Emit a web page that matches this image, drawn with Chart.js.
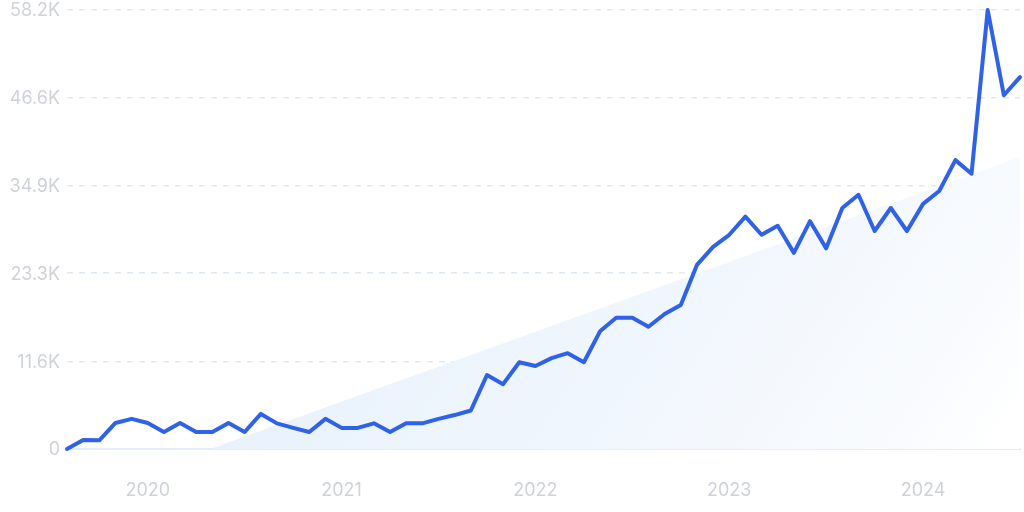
<!DOCTYPE html>
<html>
<head>
<meta charset="utf-8">
<script src="https://cdn.jsdelivr.net/npm/chart.js@4"></script>
<style>
  html, body { margin: 0; padding: 0; background: #fff; }
  canvas { display: block; }
</style>
</head>
<body>
<canvas id="chart" width="1024" height="512"></canvas>
<script>
// Meses desde ago 2019 hasta jul 2024 (indice 0..59), valores en miles
const MESES = [
  0, 1, 2, 3, 4, 5, 6, 7, 8, 9, 10, 11, 12, 13, 14, 15, 16, 17, 18, 19,
  20, 21, 22, 23, 24, 25, 26, 27, 28, 29, 30, 31, 32, 33, 34, 35, 36, 37, 38, 39,
  40, 41, 42, 43, 44, 45, 46, 47, 48, 49, 50, 51, 52, 53, 54, 55, 56, 57, 58, 59
];
const VALORES = [
  0, 1.2, 1.15, 3.45, 4.0, 3.45, 2.25, 3.45, 2.25, 2.25,
  3.45, 2.25, 4.65, 3.4, 2.8, 2.25, 4.0, 2.8, 2.8, 3.4,
  2.25, 3.4, 3.4, 4.0, 4.5, 5.1, 9.8, 8.6, 11.5, 11.0,
  12.05, 12.7, 11.5, 15.6, 17.4, 17.4, 16.2, 17.9, 19.1, 24.4,
  26.8, 28.4, 30.8, 28.4, 29.6, 26.0, 30.2, 26.6, 31.95, 33.7,
  28.9, 31.95, 28.9, 32.5, 34.2, 38.3, 36.5, 58.2, 46.9, 49.3
];

// Cuña de fondo (tendencia)
const TENDENCIA_X = [8.86, 59];
const TENDENCIA_Y = [0, 38.7];

const TICKS_Y = [0, 11.6, 23.3, 34.9, 46.6, 58.2];
const LABELS_Y = ["0", "11.6K", "23.3K", "34.9K", "46.6K", "58.2K"];
const TICKS_X = [5, 17, 29, 41, 53];
const LABELS_X = ["2020", "2021", "2022", "2023", "2024"];

const aPuntos = (xs, ys) => xs.map((x, i) => ({ x, y: ys[i] }));
const fuente = { family: "Inter", size: 18 };

function gradienteFondo(ctx) {
  const { chart } = ctx;
  const area = chart.chartArea;
  if (!area) return "#eef4fd";
  const g = chart.ctx.createLinearGradient(area.left + 140, area.top + 190, area.left + 800, area.top + 630);
  g.addColorStop(0, "#e5f0fc");
  g.addColorStop(0.55, "#f0f6fd");
  g.addColorStop(0.9, "#f9fbfe");
  g.addColorStop(1, "#ffffff");
  return g;
}

new Chart(document.getElementById("chart"), {
  type: "scatter",
  data: {
    datasets: [
      {
        label: "serie",
        data: aPuntos(MESES, VALORES),
        showLine: true,
        borderColor: "#2f62e8",
        borderWidth: 4,
        borderJoinStyle: "round",
        borderCapStyle: "round",
        pointRadius: 0,
        tension: 0,
        clip: false,
        order: 1,
      },
      {
        label: "tendencia",
        data: aPuntos(TENDENCIA_X, TENDENCIA_Y),
        showLine: true,
        borderWidth: 0,
        borderColor: "transparent",
        backgroundColor: gradienteFondo,
        pointRadius: 0,
        fill: "origin",
        order: 2,
      },
    ],
  },
  options: {
    responsive: false,
    animation: false,
    layout: { padding: { top: 10, right: 4, left: 0, bottom: 0 } },
    plugins: { legend: { display: false }, tooltip: { enabled: false } },
    scales: {
      x: {
        type: "linear",
        min: 0,
        max: 59,
        afterBuildTicks: s => { s.ticks = TICKS_X.map(value => ({ value })); },
        afterFit: s => { s.height = 63; },
        ticks: {
          callback: v => LABELS_X[TICKS_X.indexOf(v)],
          color: "#d0d2d9",
          font: fuente,
          padding: 23,
          maxRotation: 0,
          autoSkip: false,
        },
        grid: { display: false },
        border: { display: true, color: "#e3eefc", width: 2 },
      },
      y: {
        min: 0,
        max: 58.2,
        afterBuildTicks: s => { s.ticks = TICKS_Y.map(value => ({ value })); },
        afterFit: s => { s.width = 67; s.paddingTop = 0; s.paddingBottom = 0; },
        ticks: {
          callback: v => LABELS_Y[TICKS_Y.indexOf(v)],
          color: "#d0d2d9",
          font: fuente,
          padding: 7,
          labelOffset: 1,
          autoSkip: false,
        },
        grid: {
          color: c => (c.tick && c.tick.value === 0 ? "transparent" : "#dfe9fb"),
          lineWidth: 1.5,
          drawTicks: false,
        },
        border: { display: false, dash: [6, 6] },
      },
    },
  },
});
</script>
</body>
</html>
